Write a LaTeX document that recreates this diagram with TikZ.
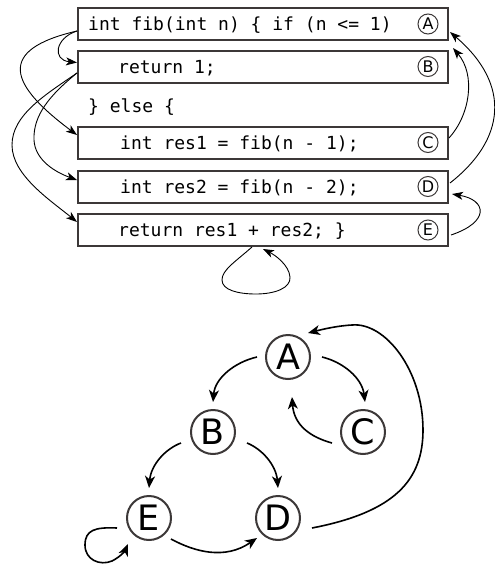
\documentclass[tikz,border=0pt]{standalone}
\usepackage{fontspec}
\newfontfamily\codefont{DejaVu Sans Mono}
\newfontfamily\lblfont{DejaVu Sans}
\usetikzlibrary{arrows.meta,calc}
\definecolor{boxgray}{RGB}{60,56,56}
\begin{document}
\begin{tikzpicture}[x=1pt,y=-1pt,
  codebox/.style={draw=boxgray, line width=2pt, minimum width=370pt, minimum height=32pt, inner sep=0pt},
  codetext/.style={anchor=base west, inner sep=0pt, font=\codefont\fontsize{18}{20}\selectfont\frenchspacing},
  tag/.style={circle, draw=boxgray, line width=1pt, minimum size=20pt, inner sep=0pt, font=\lblfont\fontsize{16}{16}\selectfont},
  gnode/.style={circle, draw=boxgray, line width=2pt, minimum size=44pt, inner sep=0pt, font=\lblfont\fontsize{35}{35}\selectfont},
  carrow/.style={-{Stealth[length=11pt,width=8pt,inset=3pt]}, line width=0.9pt},
  garrow/.style={-{Stealth[length=12pt,width=10pt,inset=3.5pt]}, line width=1.6pt},
]
\useasboundingbox (0,0) rectangle (495,568);

% code boxes
\node[codebox] (bA) at (263,24) {};
\node[codebox] (bB) at (263,66.5) {};
\node[codebox] (bC) at (263,142.5) {};
\node[codebox] (bD) at (263,186.5) {};
\node[codebox] (bE) at (263,230) {};

\node[codetext] (tA) at (88,30.5) {int fib(int n) \{ if (n <= 1)};
\node[codetext] (tB) at (118,73) {return 1;};
\node[codetext] (tElse) at (88,112) {\} else \{};
\node[codetext] (tC) at (120,149) {int res1 = fib(n - 1);};
\node[codetext] (tD) at (120,193) {int res2 = fib(n - 2);};
\node[codetext] (tE) at (118,236.5) {return res1 + res2; \}};

\node[tag] (kA) at (428,24) {A};
\node[tag] (kB) at (428,66.5) {B};
\node[tag] (kC) at (428,142.5) {C};
\node[tag] (kD) at (428,186.5) {D};
\node[tag] (kE) at (428,230) {E};

% connection points
\coordinate (aOut) at ($(bA.south west)+(0,-10)$);
\coordinate (bIn) at ($(bB.west)+(0,-4)$);
\coordinate (cIn) at ($(bC.west)+(0,-7.5)$);
\coordinate (bOut) at ($(bB.west)+(0,6.5)$);
\coordinate (dIn) at ($(bD.west)+(0,-6.5)$);
\coordinate (eIn) at ($(bE.west)+(0,-8)$);
\coordinate (cOut) at ($(bC.east)+(0,-4.5)$);
\coordinate (aIn1) at ($(bA.south east)+(4,7)$);
\coordinate (dOut) at ($(bD.east)+(1,-3.5)$);
\coordinate (aIn2) at ($(bA.east)+(1,8)$);
\coordinate (eOut) at ($(bE.east)+(2,5)$);
\coordinate (dIn2) at ($(bD.east)+(3,7.5)$);
\coordinate (eBot1) at ($(bE.south)+(-11,0)$);
\coordinate (eBot2) at ($(bE.south)+(0,2)$);

% left arrows
\draw[carrow] (aOut) .. controls (55,38) and (52,60) .. (bIn);
\draw[carrow] (aOut) .. controls (-5,50) and (10,85) .. (cIn);
\draw[carrow] (bOut) .. controls (50,95) and (33,115) .. (34,140) .. controls (35,160) and (55,172) .. (dIn);
\draw[carrow] (bOut) .. controls (45,95) and (12,115) .. (12,145) .. controls (12,175) and (50,200) .. (eIn);
% right arrows
\draw[carrow] (cOut) .. controls (470,115) and (476,75) .. (aIn1);
\draw[carrow] (dOut) .. controls (505,140) and (512,85) .. (aIn2);
\draw[carrow] (eOut) .. controls (490,222) and (487,200) .. (dIn2);
% self loop
\draw[carrow] (eBot1) .. controls (235,262) and (222,270) .. (222,280) .. controls (222,290) and (238,294) .. (256,294) .. controls (275,294) and (291,288) .. (290,277) .. controls (289,265) and (275,255) .. (eBot2);

% graph
\node[gnode] (gA) at (288,357) {A};
\node[gnode] (gB) at (213,432) {B};
\node[gnode] (gC) at (363,432) {C};
\node[gnode] (gE) at (149,518) {E};
\node[gnode] (gD) at (278,518) {D};

\draw[garrow] ($(gA)+(-31,0)$) .. controls (235,362) and (215,378) .. ($(gB)+(0,-30)$);
\draw[garrow] ($(gA)+(34,0)$) .. controls (343,362) and (362,378) .. ($(gC)+(2,-30)$);
\draw[garrow] ($(gC)+(-31,11)$) .. controls (310,437) and (294,425) .. ($(gA)+(4,40)$);
\draw[garrow] ($(gB)+(-32,11)$) .. controls (165,449) and (151,465) .. ($(gE)+(0,-30)$);
\draw[garrow] ($(gB)+(34,11)$) .. controls (262,449) and (276,465) .. ($(gD)+(0,-30)$);
\draw[garrow] ($(gE)+(22,21)$) .. controls (195,552) and (225,560) .. ($(gD)+(-21,20)$);
\draw[garrow] ($(gD)+(34,10)$) .. controls (395,512) and (423,480) .. (423,430) .. controls (423,370) and (385,322) .. (352,325) .. controls (335,326) and (320,330) .. ($(gA)+(20,-24)$);
\draw[garrow] ($(gE)+(-32,10)$) .. controls (95,527) and (85,530) .. (85,545) .. controls (85,560) and (100,566) .. (112,561) .. controls (120,557) and (125,551) .. ($(gE)+(-21,26)$);
\end{tikzpicture}
\end{document}
